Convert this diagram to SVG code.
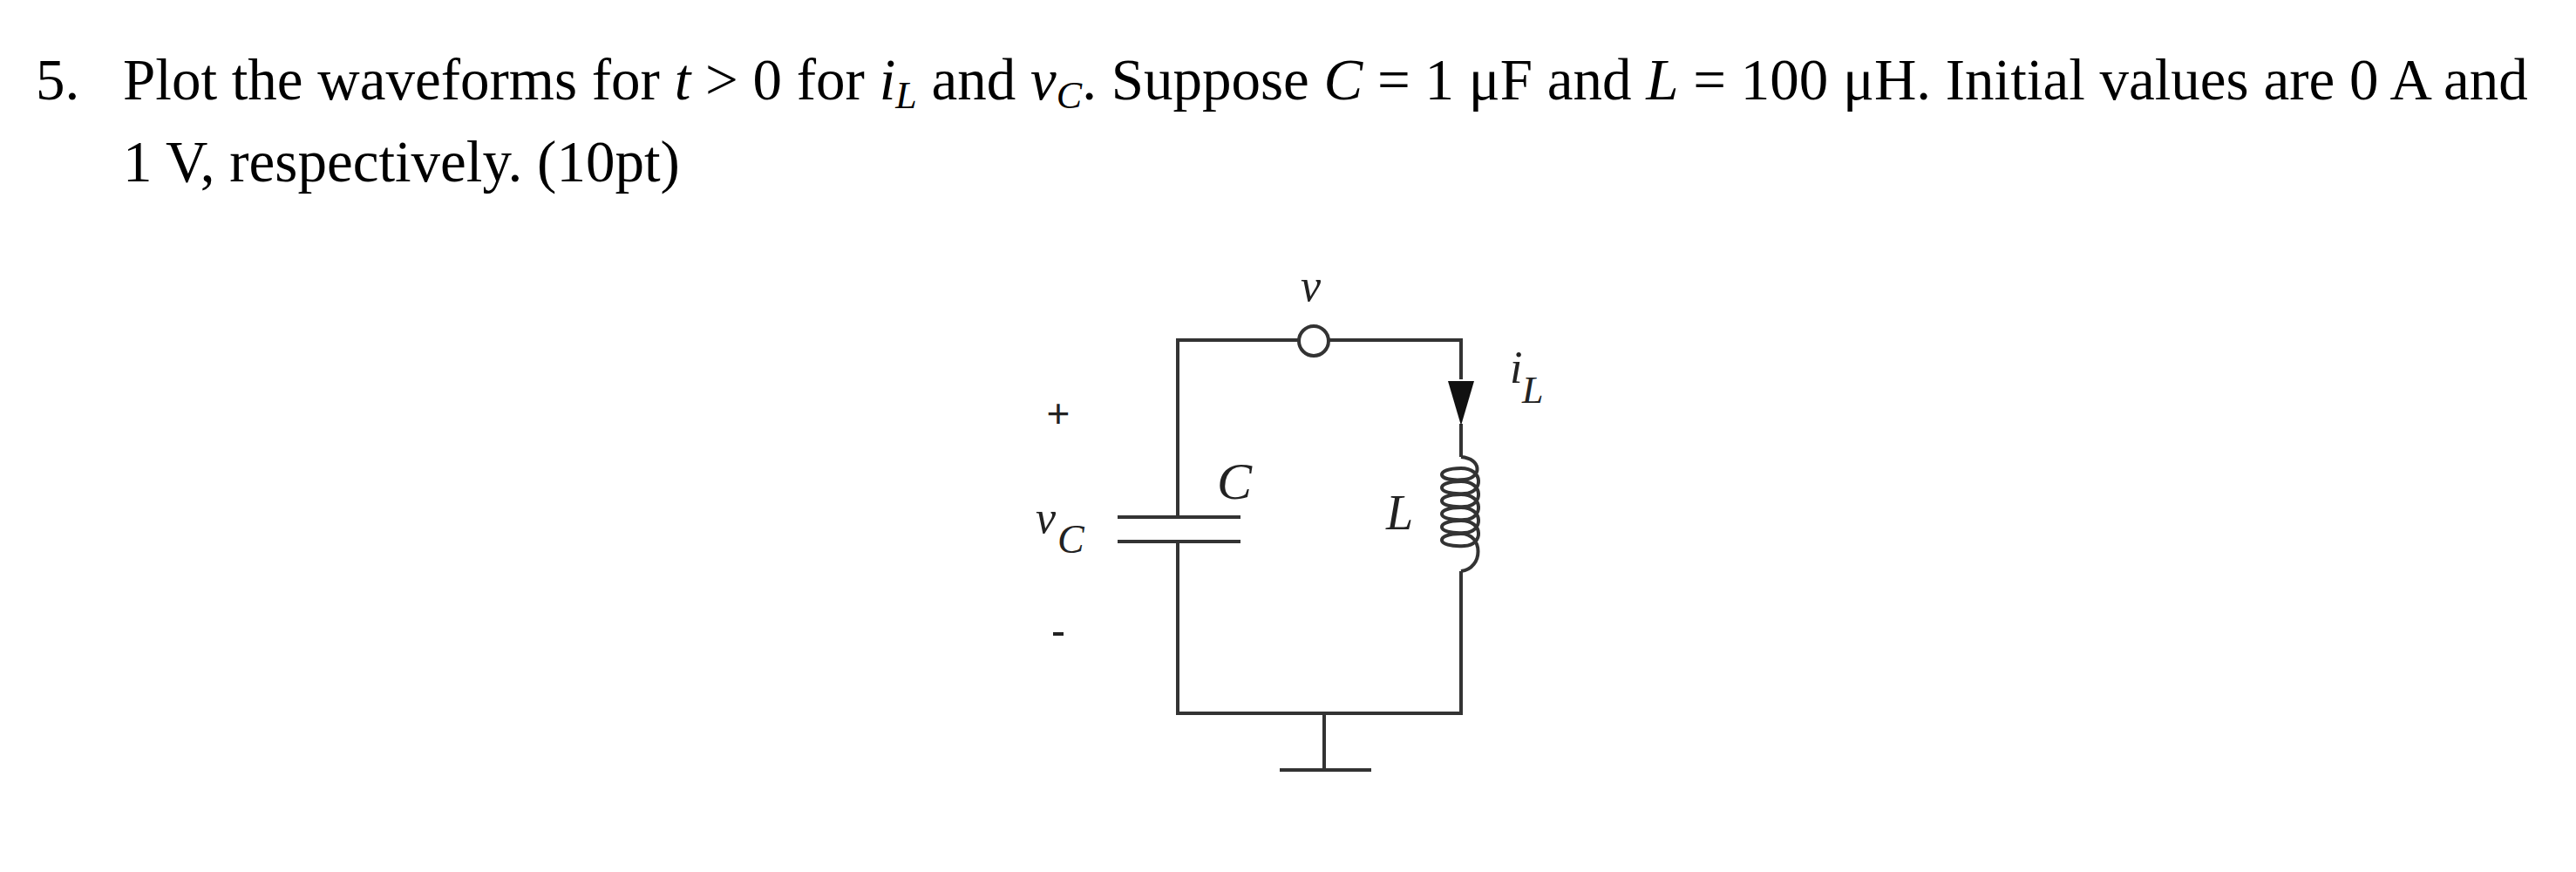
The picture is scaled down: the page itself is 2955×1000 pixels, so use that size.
<svg xmlns="http://www.w3.org/2000/svg" width="2955" height="1000" viewBox="0 0 2955 1000">
<style>
.t{font-family:"Liberation Serif","Times New Roman",serif;font-size:67px;fill:#000}
.i{font-style:italic}
.w{stroke:#333;stroke-width:4;fill:none}
.l{font-family:"Liberation Serif","Times New Roman",serif;font-style:italic;fill:#222}
</style>
<rect width="2955" height="1000" fill="#fff"/>
<g id="question">
<text class="t" x="41" y="114">5.</text>
<text class="t" x="141" y="114">Plot the waveforms for <tspan class="i">t</tspan> &gt; 0 for <tspan class="i">i</tspan><tspan class="i" font-size="44" dy="10">L</tspan><tspan dy="-10"> and </tspan><tspan class="i">v</tspan><tspan class="i" font-size="44" dy="10">C</tspan><tspan dy="-10">. Suppose </tspan><tspan class="i">C</tspan> = 1 μF and <tspan class="i">L</tspan> = 100 μH. Initial values are 0 A and</text>
<text class="t" x="141" y="208">1 V, respectively. (10pt)</text>
</g>
<g id="connectors">
<path class="w" d="M1351 593 V390 H1489 M1525 390 H1676 V435 M1676 486 V524 M1676 655 V818 H1351 V621"/>
<path class="w" d="M1282 593 H1423 M1282 621 H1423"/>
<path class="w" d="M1519 818 V883 M1468 883 H1573"/>
</g>
<g id="node-v"><circle cx="1507" cy="391" r="17" fill="#fff" stroke="#333" stroke-width="4"/></g>
<g id="arrow-iL"><polygon points="1661,437 1691,437 1676,488" fill="#111"/></g>
<g id="inductor-L">
<path class="w" stroke-width="3" d="M1676 524 C1700 526 1700 548 1680 550 C1646 553 1646 537 1676 537 C1702 537 1702 565 1680 566 C1646 568 1646 552 1676 552 C1702 552 1702 580 1680 581 C1646 583 1646 567 1676 567 C1702 567 1702 595 1680 596 C1646 598 1646 582 1676 582 C1702 582 1702 610 1680 611 C1646 613 1646 597 1676 597 C1702 597 1702 625 1680 626 C1646 628 1646 612 1676 612 C1702 612 1702 652 1676 655"/>
</g>
<g id="labels">
<text class="l" x="1492" y="345" font-size="52">v</text>
<text class="l" x="1732" y="439" font-size="52">i</text>
<text class="l" x="1746" y="462" font-size="44">L</text>
<text x="1214" y="490" font-family="Liberation Sans,Arial,sans-serif" font-size="46" text-anchor="middle" fill="#222">+</text>
<text class="l" x="1188" y="611" font-size="52">v</text>
<text class="l" x="1213" y="634" font-size="46">C</text>
<text class="l" x="1396" y="572" font-size="60">C</text>
<text class="l" x="1590" y="607" font-size="56">L</text>
<rect x="1208" y="725" width="12" height="4" fill="#222"/>
</g>
</svg>
